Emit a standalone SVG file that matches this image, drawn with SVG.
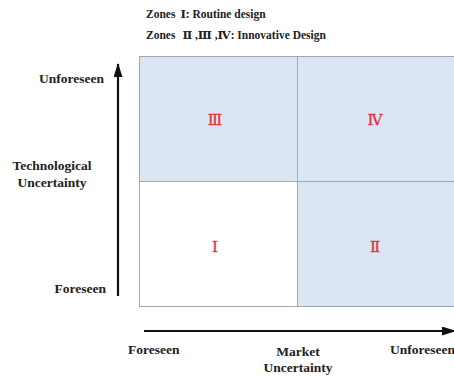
<svg xmlns="http://www.w3.org/2000/svg" width="454" height="376" viewBox="0 0 454 376">
<defs>
<style>
.t{font-family:"Liberation Serif","DejaVu Serif",serif;font-weight:bold;fill:#222;}
.h{font-size:11.5px;}
.l{font-size:13.5px;}
.z{font-family:"Liberation Serif","DejaVu Serif",serif;font-size:15px;fill:#e0303c;stroke:#e0303c;stroke-width:0.3;text-anchor:middle;}
.c{fill:#dce6f2;stroke:#a4a8ae;stroke-width:1;}
.w{fill:#ffffff;stroke:#a4a8ae;stroke-width:1;}
.ax{stroke:#111;stroke-width:2.2;fill:none;}
</style>
<marker id="ah" markerWidth="14" markerHeight="9" refX="13" refY="4.5" orient="auto" markerUnits="userSpaceOnUse" viewBox="0 0 14 9">
<path d="M0,0 L14,4.5 L0,9 z" fill="#111"/>
</marker>
</defs>
<g id="header">
<text class="t h" x="146" y="18">Zones<tspan dx="5">Ⅰ: Routine design</tspan></text>
<text class="t h" x="146" y="39">Zones<tspan dx="7">Ⅱ ,Ⅲ ,Ⅳ: Innovative Design</tspan></text>
</g>
<g id="zone3"><rect class="c" x="139.5" y="56.5" width="158" height="125"/><text class="z" x="215" y="125">Ⅲ</text></g>
<g id="zone4"><rect class="c" x="297.5" y="56.5" width="160" height="125"/><text class="z" x="375" y="125">Ⅳ</text></g>
<g id="zone1"><rect class="w" x="139.5" y="181.5" width="158" height="125"/><text class="z" x="215" y="252">Ⅰ</text></g>
<g id="zone2"><rect class="c" x="297.5" y="181.5" width="160" height="125"/><text class="z" x="375" y="252">Ⅱ</text></g>
<g id="connectors">
<line class="ax" x1="118" y1="296" x2="118" y2="64" marker-end="url(#ah)"/>
<line class="ax" x1="144" y1="331" x2="455" y2="331" marker-end="url(#ah)"/>
</g>
<g id="yaxis-labels">
<text class="t l" x="104" y="83" text-anchor="end">Unforeseen</text>
<text class="t l" x="52" y="170" text-anchor="middle">Technological</text>
<text class="t l" x="52" y="187" text-anchor="middle">Uncertainty</text>
<text class="t l" x="106" y="293" text-anchor="end">Foreseen</text>
</g>
<g id="xaxis-labels">
<text class="t l" x="128" y="354">Foreseen</text>
<text class="t l" x="298" y="356" text-anchor="middle">Market</text>
<text class="t l" x="298" y="372" text-anchor="middle">Uncertainty</text>
<text class="t l" x="390" y="354">Unforeseen</text>
</g>
</svg>
